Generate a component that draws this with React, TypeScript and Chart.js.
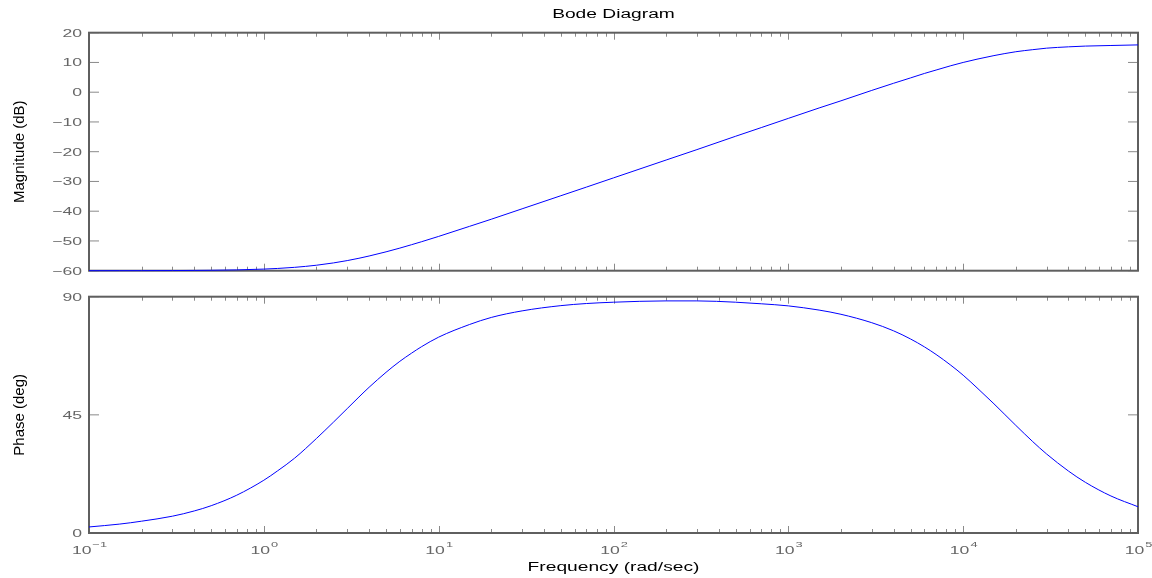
import React, { useEffect, useRef } from "react";
import { Chart, registerables } from "chart.js";

Chart.register(...registerables);

// ---- data ----
const frequencies = [
  0.1, 0.15, 0.2, 0.3, 0.4, 0.5, 0.7, 1, 1.2, 1.5, 2, 2.5, 3, 3.5, 4, 5, 6, 7,
  8, 10, 15, 20, 30, 50, 70, 100, 200, 300, 500, 700, 1000, 1500, 2000, 3000,
  4000, 5000, 6000, 7000, 8500, 10000, 12000, 15000, 20000, 25000, 30000, 40000,
  50000, 70000, 100000,
];
const magnitudeDb = [
  -60.0, -59.99, -59.98, -59.95, -59.91, -59.86, -59.73, -59.46, -59.24, -58.87,
  -58.16, -57.39, -56.6, -55.82, -55.06, -53.66, -52.4, -51.26, -50.24, -48.47,
  -45.1, -42.7, -39.2, -34.8, -31.9, -28.8, -22.8, -19.3, -14.8, -11.9, -8.8,
  -5.3, -2.9, 0.6, 3.0, 4.8, 6.3, 7.45, 8.9, 10.0, 11.1, 12.3, 13.6, 14.3,
  14.8, 15.25, 15.5, 15.7, 15.9,
];
const phaseDeg = [
  2.3, 3.4, 4.5, 6.4, 8.4, 10.4, 14.4, 20.1, 23.7, 28.5, 36.0, 42.2, 47.4,
  51.8, 55.5, 61.2, 65.4, 68.5, 71.0, 74.6, 79.4, 82.1, 84.6, 86.6, 87.4, 87.9,
  88.4, 88.4, 87.9, 87.3, 86.5, 84.9, 83.3, 80.1, 77.0, 73.9, 70.9, 68.0, 63.9,
  60.1, 55.3, 49.2, 41.0, 34.8, 30.1, 23.6, 19.3, 14.1, 10.0,
];
const xDecadeExponents = [-1, 0, 1, 2, 3, 4, 5];
const magnitudeTicks = [-60, -50, -40, -30, -20, -10, 0, 10, 20];
const phaseTicks = [0, 45, 90];

const titleText = "Bode Diagram";
const xTitle = "Frequency (rad/sec)";
const magTitle = "Magnitude (dB)";
const phaseTitle = "Phase (deg)";

// ---- style ----
const W = 1152;
const H = 578;
const FONT = '"Liberation Sans", Arial, Helvetica, sans-serif';
const SX = 1.6;
const AXIS_COLOR = "#5f5f5f";
const TICK_COLOR = "#8a8a8a";
const TEXT_COLOR = "#666666";

function stretchedText(
  ctx: CanvasRenderingContext2D,
  text: string,
  x: number,
  y: number,
  size: number,
  align: "left" | "center" | "right",
  color: string,
  sx: number = SX
) {
  ctx.save();
  ctx.font = `${size}px ${FONT}`;
  ctx.fillStyle = color;
  ctx.textBaseline = "alphabetic";
  ctx.textAlign = "left";
  const w = ctx.measureText(text).width * sx;
  let left = x;
  if (align === "center") left = x - w / 2;
  else if (align === "right") left = x - w;
  ctx.translate(left, y);
  ctx.scale(sx, 1);
  ctx.fillText(text, 0, 0);
  ctx.restore();
  return w;
}

function rotatedText(
  ctx: CanvasRenderingContext2D,
  text: string,
  cx: number,
  cy: number,
  size: number,
  color: string
) {
  ctx.save();
  ctx.font = `${size}px ${FONT}`;
  ctx.fillStyle = color;
  ctx.textAlign = "center";
  ctx.textBaseline = "middle";
  ctx.translate(cx, cy);
  ctx.rotate(-Math.PI / 2);
  ctx.fillText(text, 0, 0);
  ctx.restore();
}

function fmt(v: number) {
  return v < 0 ? "\u2212" + Math.abs(v) : String(v);
}

type PanelCfg = {
  name: string;
  yTicks: number[];
  yTitle: string;
  showTitle: boolean;
  showXLabels: boolean;
};

function makeAxesPlugin(cfg: PanelCfg) {
  return {
    id: "bodeAxes_" + cfg.name,
    beforeDatasetsDraw(chart: any) {
      const ctx: CanvasRenderingContext2D = chart.ctx;
      const a = chart.chartArea;
      const xs = chart.scales.x;
      const ys = chart.scales.y;
      ctx.save();
      ctx.strokeStyle = TICK_COLOR;
      ctx.lineWidth = 1;
      ctx.beginPath();
      for (const v of cfg.yTicks) {
        const py = ys.getPixelForValue(v);
        ctx.moveTo(a.left, py);
        ctx.lineTo(a.left + 10, py);
        ctx.moveTo(a.right, py);
        ctx.lineTo(a.right - 10, py);
      }
      for (let i = 0; i < xDecadeExponents.length; i++) {
        const e = xDecadeExponents[i];
        const base = Math.pow(10, e);
        const px = Math.round(xs.getPixelForValue(base)) + 0.5;
        ctx.moveTo(px, a.bottom);
        ctx.lineTo(px, a.bottom - 7);
        ctx.moveTo(px, a.top);
        ctx.lineTo(px, a.top + 7);
        if (i < xDecadeExponents.length - 1) {
          for (let m = 2; m <= 9; m++) {
            const mx = Math.round(xs.getPixelForValue(base * m)) + 0.5;
            ctx.moveTo(mx, a.bottom);
            ctx.lineTo(mx, a.bottom - 4);
            ctx.moveTo(mx, a.top);
            ctx.lineTo(mx, a.top + 4);
          }
        }
      }
      ctx.stroke();
      ctx.strokeStyle = AXIS_COLOR;
      ctx.lineWidth = 2;
      ctx.strokeRect(a.left, a.top, a.right - a.left, a.bottom - a.top);
      ctx.restore();
    },
    afterDraw(chart: any) {
      const ctx: CanvasRenderingContext2D = chart.ctx;
      const a = chart.chartArea;
      const xs = chart.scales.x;
      const ys = chart.scales.y;
      const cx = (a.left + a.right) / 2;
      for (const v of cfg.yTicks) {
        const py = ys.getPixelForValue(v);
        stretchedText(ctx, fmt(v), a.left - 7, py + 4, 11, "right", TEXT_COLOR);
      }
      rotatedText(ctx, cfg.yTitle, 20, (a.top + a.bottom) / 2, 15, "#000000");
      if (cfg.showTitle) {
        stretchedText(ctx, titleText, cx, 18, 12, "center", "#000000");
      }
      if (cfg.showXLabels) {
        for (const e of xDecadeExponents) {
          const px = xs.getPixelForValue(Math.pow(10, e));
          ctx.save();
          ctx.font = `11px ${FONT}`;
          const wBase = ctx.measureText("10").width * SX;
          ctx.font = `8px ${FONT}`;
          const expStr = fmt(e);
          const wExp = ctx.measureText(expStr).width * SX;
          ctx.restore();
          const left = px - (wBase + wExp) / 2;
          stretchedText(ctx, "10", left, 554, 11, "left", TEXT_COLOR);
          stretchedText(ctx, expStr, left + wBase + 1, 547, 8, "left", TEXT_COLOR);
        }
        stretchedText(ctx, xTitle, cx, 571, 12, "center", "#000000");
      }
    },
  };
}

function makeChart(
  canvas: HTMLCanvasElement,
  values: number[],
  yMin: number,
  yMax: number,
  top: number,
  bottom: number,
  cfg: PanelCfg
) {
  return new Chart(canvas, {
    type: "line",
    data: {
      datasets: [
        {
          data: frequencies.map((f, i) => ({ x: f, y: values[i] })),
          borderColor: "#0000ff",
          borderWidth: 1,
          pointRadius: 0,
          cubicInterpolationMode: "monotone",
          clip: false,
          fill: false,
        } as any,
      ],
    },
    options: {
      animation: false,
      responsive: false,
      maintainAspectRatio: false,
      events: [],
      layout: { padding: { left: 89, right: W - 1138, top: top, bottom: H - bottom } },
      plugins: {
        legend: { display: false },
        tooltip: { enabled: false },
        title: { display: false },
      },
      scales: {
        x: { type: "logarithmic", min: 0.1, max: 100000, display: false },
        y: { type: "linear", min: yMin, max: yMax, display: false },
      },
    } as any,
    plugins: [makeAxesPlugin(cfg) as any],
  });
}

export default function App() {
  const magRef = useRef<HTMLCanvasElement | null>(null);
  const phaseRef = useRef<HTMLCanvasElement | null>(null);

  useEffect(() => {
    document.body.style.margin = "0";
    const c1 = makeChart(magRef.current!, magnitudeDb, -60, 20, 32.7, 270.7, {
      name: "mag",
      yTicks: magnitudeTicks,
      yTitle: magTitle,
      showTitle: true,
      showXLabels: false,
    });
    const c2 = makeChart(phaseRef.current!, phaseDeg, 0, 90, 296.7, 533, {
      name: "phase",
      yTicks: phaseTicks,
      yTitle: phaseTitle,
      showTitle: false,
      showXLabels: true,
    });
    return () => {
      c1.destroy();
      c2.destroy();
    };
  }, []);

  return (
    <div
      style={{
        position: "fixed",
        left: 0,
        top: 0,
        width: W,
        height: H,
        background: "#ffffff",
      }}
    >
      <canvas
        ref={magRef}
        width={W}
        height={H}
        style={{ position: "absolute", left: 0, top: 0, width: W, height: H }}
      />
      <canvas
        ref={phaseRef}
        width={W}
        height={H}
        style={{ position: "absolute", left: 0, top: 0, width: W, height: H }}
      />
    </div>
  );
}
